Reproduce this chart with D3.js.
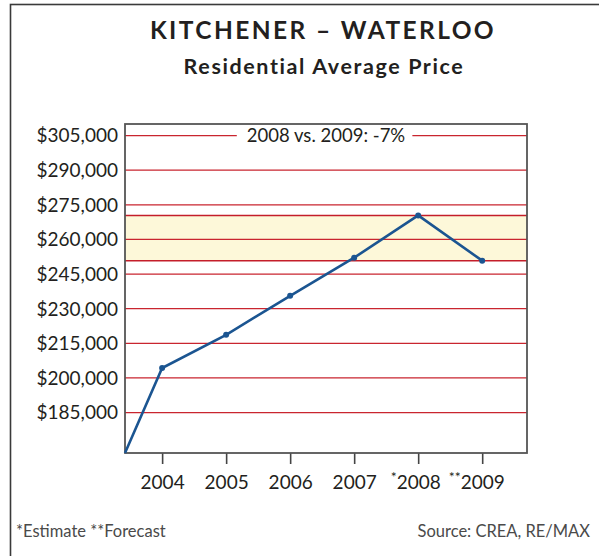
<!DOCTYPE html>
<html>
<head>
<meta charset="utf-8">
<script src="https://cdn.jsdelivr.net/npm/d3@7"></script>
<style>
  body { margin: 0; background: #fff; }
  text { font-family: Lato, "Open Sans", sans-serif; fill: #231f20; }
</style>
</head>
<body>
<div id="chart"></div>
<script>
// data
var years = [2004, 2005, 2006, 2007, 2008, 2009];
var prices = [204300, 218700, 235600, 252100, 270400, 250800];
var yearMarks = ["", "", "", "", "*", "**"];
var priceTicks = [185000, 200000, 215000, 230000, 245000, 260000, 275000, 290000, 305000];
var titleText = "KITCHENER \u2013 WATERLOO";
var subtitleText = "Residential Average Price";
var noteText = "2008 vs. 2009: -7%";
var footLeft = "*Estimate **Forecast";
var footRight = "Source: CREA, RE/MAX";

var svgWidth = 599;
var svgHeight = 556;

var margin = { top: 124, right: 72, bottom: 103, left: 125 };
var width = svgWidth - margin.left - margin.right;
var height = svgHeight - margin.top - margin.bottom;

var svg = d3.select("#chart")
  .append("svg")
  .attr("width", svgWidth)
  .attr("height", svgHeight);

// outer frame (runs off the right and bottom edges)
svg.append("rect")
  .attr("x", 10.5)
  .attr("y", 4.5)
  .attr("width", 700)
  .attr("height", 700)
  .attr("fill", "none")
  .attr("stroke", "#3a3a3a")
  .attr("stroke-width", 1.6);

svg.append("text")
  .attr("x", 323)
  .attr("y", 38.5)
  .attr("text-anchor", "middle")
  .attr("font-weight", "bold")
  .attr("font-size", "24.5px")
  .attr("letter-spacing", "2.4px")
  .text(titleText);

svg.append("text")
  .attr("x", 324)
  .attr("y", 73.5)
  .attr("text-anchor", "middle")
  .attr("font-weight", "bold")
  .attr("font-size", "21.5px")
  .attr("letter-spacing", "1.6px")
  .text(subtitleText);

var chartGroup = svg.append("g")
  .attr("transform", `translate(${margin.left}, ${margin.top})`);

var xScale = d3.scaleLinear()
  .domain([2003.42, 2009.7])
  .range([0, width]);

var yScale = d3.scaleLinear()
  .domain([167500, 310000])
  .range([height, 0]);

// shaded band between the 2009 and 2008 values
var hi = prices[years.indexOf(2008)];
var lo = prices[years.indexOf(2009)];
chartGroup.append("rect")
  .attr("x", 0)
  .attr("y", yScale(hi))
  .attr("width", width)
  .attr("height", yScale(lo) - yScale(hi))
  .attr("fill", "#fdf8d9");

// gridlines
chartGroup.selectAll(".grid")
  .data(priceTicks)
  .enter()
  .append("line")
  .attr("class", "grid")
  .attr("x1", 0)
  .attr("x2", width)
  .attr("y1", d => yScale(d))
  .attr("y2", d => yScale(d))
  .attr("stroke", "#c9252f")
  .attr("stroke-width", 1.2);

chartGroup.selectAll(".band")
  .data([hi, lo])
  .enter()
  .append("line")
  .attr("class", "band")
  .attr("x1", 0)
  .attr("x2", width)
  .attr("y1", d => yScale(d))
  .attr("y2", d => yScale(d))
  .attr("stroke", "#c41e2a")
  .attr("stroke-width", 1.4);

// note on the top gridline
var note = chartGroup.append("text")
  .attr("x", width / 2)
  .attr("y", yScale(d3.max(priceTicks)))
  .attr("dy", "0.36em")
  .attr("text-anchor", "middle")
  .attr("font-size", "18.5px")
  .text(noteText);
var nb = note.node().getBBox();
chartGroup.insert("rect", "text")
  .attr("x", nb.x - 10)
  .attr("y", nb.y)
  .attr("width", nb.width + 17)
  .attr("height", nb.height)
  .attr("fill", "#fff");

// y labels
chartGroup.selectAll(".ylab")
  .data(priceTicks)
  .enter()
  .append("text")
  .attr("class", "ylab")
  .attr("x", -7)
  .attr("y", d => yScale(d))
  .attr("dy", "0.36em")
  .attr("text-anchor", "end")
  .attr("font-size", "19px")
  .text(d => "$" + d3.format(",")(d));

// x ticks and labels
var xAxis = d3.axisBottom(xScale)
  .tickValues(years)
  .tickSize(11)
  .tickPadding(12)
  .tickFormat(d3.format("d"));

var xg = chartGroup.append("g")
  .attr("transform", `translate(0, ${height})`)
  .call(xAxis);
xg.select(".domain").remove();
xg.selectAll(".tick line").attr("stroke", "#444").attr("stroke-width", 1.6);
xg.selectAll(".tick text")
  .attr("font-family", null)
  .attr("font-size", "19px")
  .attr("fill", "#231f20");

xg.selectAll(".tick").each(function (d, i) {
  if (!yearMarks[i]) return;
  var t = d3.select(this).select("text");
  var w = t.node().getComputedTextLength();
  d3.select(this).append("text")
    .attr("x", -w / 2)
    .attr("y", 29)
    .attr("text-anchor", "end")
    .attr("font-size", "14px")
    .attr("fill", "#666")
    .text(yearMarks[i]);
});

// plot frame
chartGroup.append("rect")
  .attr("x", 0)
  .attr("y", 0)
  .attr("width", width)
  .attr("height", height)
  .attr("fill", "none")
  .attr("stroke", "#555")
  .attr("stroke-width", 1.8);

// line starts at the chart origin
var series = years.map((y, i) => ({ year: y, price: prices[i] }));
var lineData = [{ year: xScale.domain()[0], price: yScale.domain()[0] }].concat(series);

var line = d3.line()
  .x(d => xScale(d.year))
  .y(d => yScale(d.price));

chartGroup.append("path")
  .datum(lineData)
  .attr("d", line)
  .attr("fill", "none")
  .attr("stroke", "#1b5591")
  .attr("stroke-width", 2.6)
  .attr("stroke-linejoin", "miter");

chartGroup.selectAll(".dot")
  .data(series)
  .enter()
  .append("circle")
  .attr("class", "dot")
  .attr("cx", d => xScale(d.year))
  .attr("cy", d => yScale(d.price))
  .attr("r", 3)
  .attr("fill", "#1b5591");

// footer
svg.append("text")
  .attr("x", 16)
  .attr("y", 537)
  .attr("font-size", "16.5px")
  .style("fill", "#4a4a4a")
  .text(footLeft);

svg.append("text")
  .attr("x", 590)
  .attr("y", 537)
  .attr("text-anchor", "end")
  .attr("font-size", "16.5px")
  .style("fill", "#4a4a4a")
  .text(footRight);
</script>
</body>
</html>
